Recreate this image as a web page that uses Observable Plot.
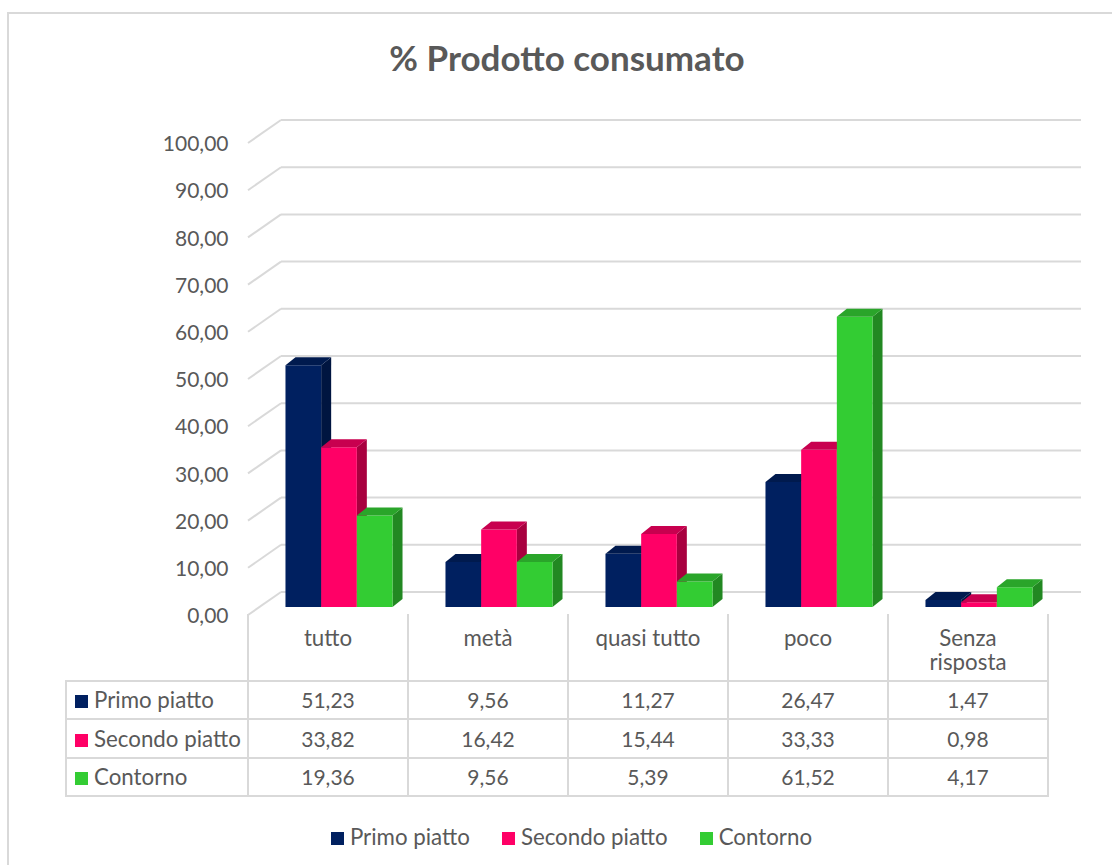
<!DOCTYPE html>
<html>
<head>
<meta charset="utf-8">
<script src="https://cdn.jsdelivr.net/npm/d3@7"></script>
<script src="https://cdn.jsdelivr.net/npm/@observablehq/plot@0.6"></script>
<style>
  html, body { margin: 0; padding: 0; background: #fff; }
  #chart { position: relative; width: 1112px; height: 865px; overflow: hidden; font-family: Lato, "Open Sans", sans-serif; color: #595959; }
  #frame { position: absolute; left: 7px; top: 12px; width: 1120px; height: 870px; border: 2px solid #d9d9d9; box-sizing: border-box; }
  #title { position: absolute; left: 0; width: 1134px; top: 36px; text-align: center; font-weight: 700; font-size: 35px; line-height: 42px; }
  #plot { position: absolute; left: 0; top: 0; }
  .tline { position: absolute; background: #d9d9d9; }
  .tcell { position: absolute; font-size: 21px; line-height: 24px; text-align: center; white-space: pre-line; }
  .tlab { font-size: 22.3px; }
  .sw { display: inline-block; width: 13px; height: 13px; margin-right: 6px; vertical-align: 0px; }
  #legend { position: absolute; left: 0; width: 1143px; top: 824px; display: flex; justify-content: center; font-size: 22.3px; line-height: 26px; }
  #legend .item { margin: 0 16px; white-space: nowrap; }
</style>
</head>
<body>
<div id="chart">
  <div id="frame"></div>
  <div id="plot"></div>
  <div id="title">% Prodotto consumato</div>
  <div id="table"></div>
  <div id="legend"></div>
</div>
<script>
// ---- data ----
const categories = ["tutto", "metà", "quasi tutto", "poco", "Senza risposta"];
const categoryLabels = ["tutto", "metà", "quasi tutto", "poco", "Senza\nrisposta"];
const seriesNames = ["Primo piatto", "Secondo piatto", "Contorno"];
const primoPiatto = [51.23, 9.56, 11.27, 26.47, 1.47];
const secondoPiatto = [33.82, 16.42, 15.44, 33.33, 0.98];
const contorno = [19.36, 9.56, 5.39, 61.52, 4.17];
const yTicks = [0, 10, 20, 30, 40, 50, 60, 70, 80, 90, 100];

// ---- styles ----
const seriesColors = ["#002060", "#FF0066", "#33CC33"];
const topColors = ["#001a4e", "#c8004f", "#2aa52a"];
const sideColors = ["#001540", "#a8003f", "#228822"];
const gridColor = "#d9d9d9";

const seriesValues = [primoPiatto, secondoPiatto, contorno];
const rows = [];
categories.forEach((c, i) => seriesValues.forEach((vals, s) => rows.push({category: c, series: seriesNames[s], s, value: vals[i]})));

const itLocale = d3.formatLocale({decimal: ",", thousands: ".", grouping: [3], currency: ["", " €"]});
const fmt = itLocale.format(".2f");

const W = 1112, H = 865;
const mL = 248, mR = 64, mT = 135, mB = 258;
// 3D offsets (presentation)
const frontDx = 0, frontDy = 8;   // front edge of side wall
const backDx = 33, backDy = -15;  // back wall
const barDx = 11;                 // bar plane shift
const depthDx = 10, depthDy = -8; // bar depth

function scene(index, scales, values, dimensions) {
  const x = scales.x, y = scales.y;
  const ns = "http://www.w3.org/2000/svg";
  const g = document.createElementNS(ns, "g");
  const bw = x.bandwidth();
  const x0 = dimensions.marginLeft, x1 = dimensions.width - dimensions.marginRight;
  function poly(pts, fill) {
    const p = document.createElementNS(ns, "polygon");
    p.setAttribute("points", pts.map(d => d.join(",")).join(" "));
    p.setAttribute("fill", fill);
    g.appendChild(p);
  }
  function line(xa, ya, xb, yb) {
    const l = document.createElementNS(ns, "line");
    l.setAttribute("x1", xa); l.setAttribute("y1", ya);
    l.setAttribute("x2", xb); l.setAttribute("y2", yb);
    l.setAttribute("stroke", gridColor); l.setAttribute("stroke-width", 2);
    g.appendChild(l);
  }
  // side wall diagonals + back wall gridlines
  for (const t of yTicks) {
    const yy = y(t);
    line(x0 + frontDx, yy + frontDy, x0 + backDx, yy + backDy);
    line(x0 + backDx, yy + backDy, x1 + backDx, yy + backDy);
  }
  // bars
  const barW = bw * 0.223;
  const base = y(0);
  for (const c of categories) {
    const start = x(c) + barDx + (bw - 3 * barW) / 2;
    for (let s = 0; s < 3; s++) {
      const r = rows.find(d => d.category === c && d.s === s);
      const xl = start + s * barW, xr = xl + barW, yt = y(r.value);
      // side face
      poly([[xr, base], [xr, yt], [xr + depthDx, yt + depthDy], [xr + depthDx, base + depthDy]], sideColors[s]);
      // front face
      poly([[xl, base], [xl, yt], [xr, yt], [xr, base]], seriesColors[s]);
      // top face
      poly([[xl, yt], [xl + depthDx, yt + depthDy], [xr + depthDx, yt + depthDy], [xr, yt]], topColors[s]);
    }
  }
  return g;
}

const chart = Plot.plot({
  width: W, height: H,
  marginLeft: mL, marginRight: mR, marginTop: mT, marginBottom: mB,
  x: {type: "band", domain: categories, padding: 0, axis: null},
  y: {domain: [0, 100], axis: null},
  style: {background: "transparent", fontFamily: "Lato, 'Open Sans', sans-serif", color: "#595959"},
  marks: [
    Plot.ruleX(categories, {x: d => d, strokeOpacity: 0}),
    scene,
    Plot.text(yTicks, {y: d => d, text: d => fmt(d), frameAnchor: "left", textAnchor: "end", dx: -20, dy: frontDy + 1, fontSize: 21, fill: "#595959"})
  ]
});
document.getElementById("plot").appendChild(chart);

// ---- data table (HTML) ----
const tbl = document.getElementById("table");
const bw = (W - mL - mR) / categories.length;
const colX = categories.map((c, i) => mL + i * bw);
const tableLeft = 66, headTop = 614, rowLines = [681, 719, 758, 796];
function addLine(l, t, w, h) {
  const d = document.createElement("div");
  d.className = "tline";
  Object.assign(d.style, {left: l + "px", top: t + "px", width: w + "px", height: h + "px"});
  tbl.appendChild(d);
}
for (let i = 0; i <= categories.length; i++) addLine(mL + i * bw - 1, headTop, 2, rowLines[3] - headTop + 1);
addLine(tableLeft - 1, rowLines[0], 2, rowLines[3] - rowLines[0] + 1);
rowLines.forEach(yl => addLine(tableLeft - 1, yl - 1, W - mR - tableLeft + 2, 2));
function addCell(l, t, w, html, align, cls) {
  const d = document.createElement("div");
  d.className = "tcell" + (cls ? " " + cls : "");
  Object.assign(d.style, {left: l + "px", top: t + "px", width: w + "px", textAlign: align || "center"});
  d.innerHTML = html;
  tbl.appendChild(d);
}
categoryLabels.forEach((lab, i) => addCell(colX[i], 626, bw, lab, "center", "tlab"));
seriesNames.forEach((name, s) => {
  const rt = rowLines[s], rh = rowLines[s + 1] - rowLines[s];
  const top = rt + (rh - 24) / 2;
  addCell(tableLeft + 9, top, mL - tableLeft - 9, `<span class="sw" style="background:${seriesColors[s]}"></span>${name}`, "left", "tlab");
  seriesValues[s].forEach((v, i) => addCell(colX[i], top, bw, fmt(v)));
});

// ---- legend ----
document.getElementById("legend").innerHTML = seriesNames.map((n, s) =>
  `<span class="item"><span class="sw" style="background:${seriesColors[s]}"></span>${n}</span>`).join("");
</script>
</body>
</html>
